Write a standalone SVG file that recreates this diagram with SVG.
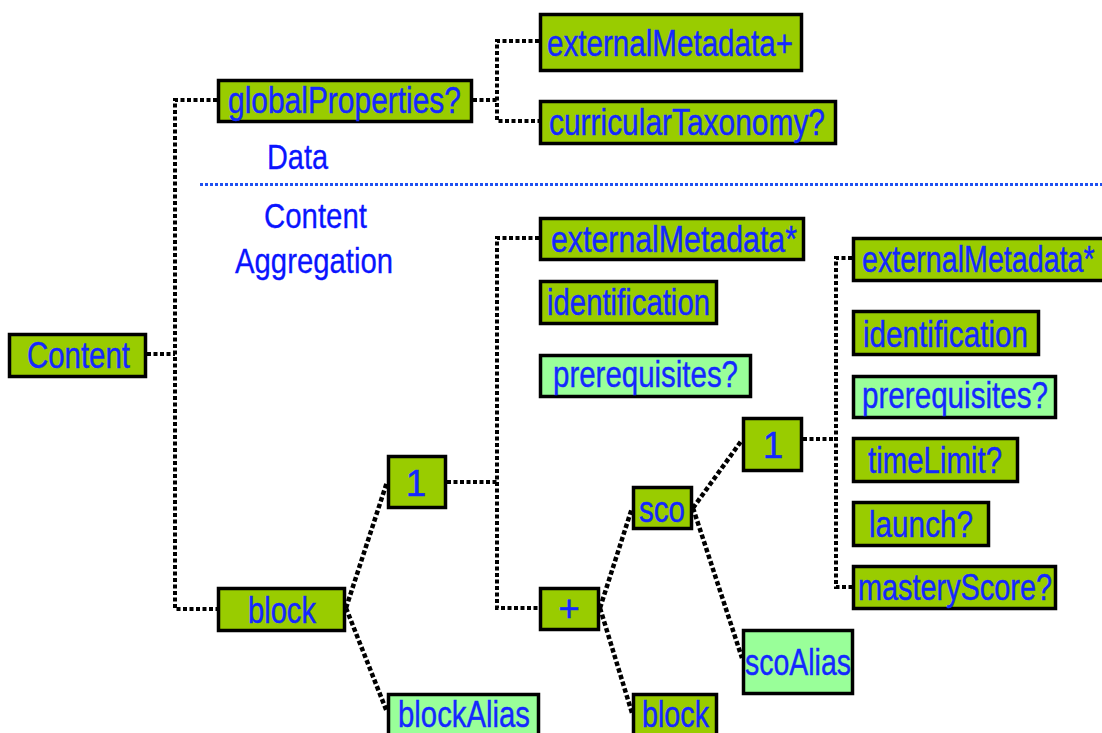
<svg xmlns="http://www.w3.org/2000/svg" width="1102" height="733" viewBox="0 0 1102 733">
<style>
.n{fill:#99cc00;stroke:#000;stroke-width:3.5}
.l{fill:#99ff99;stroke:#000;stroke-width:3.5}
.t{font-family:"Liberation Sans",Arial,sans-serif;font-size:37px;fill:#1428ff;stroke:#1428ff;stroke-width:0.4}
.lab{font-family:"Liberation Sans",Arial,sans-serif;font-size:35px;fill:#0a14ff;stroke:#0a14ff;stroke-width:0.3}
.c{fill:none;stroke:#000;stroke-width:4;stroke-dasharray:4 2.5}
.d{fill:none;stroke:#000;stroke-width:4.5;stroke-dasharray:4.5 2.5}
</style>
<rect width="1102" height="733" fill="#fff"/>
<g id="labels">
<text class="lab" x="267" y="169" textLength="61" lengthAdjust="spacingAndGlyphs">Data</text>
<text class="lab" x="264" y="228" textLength="103" lengthAdjust="spacingAndGlyphs">Content</text>
<text class="lab" x="235" y="273" textLength="158" lengthAdjust="spacingAndGlyphs">Aggregation</text>
<line x1="200" y1="184.5" x2="1102" y2="184.5" stroke="#2050f0" stroke-width="3" stroke-dasharray="3 2"/>
</g>
<g id="connectors">
<path class="c" d="M147,354 H175 M217,100 H175 V609 H217"/>
<path class="c" d="M473,100 H497 M539,41 H497 V121 H539"/>
<path class="c" d="M447,482 H497 M539,238 H497 V608 H539"/>
<path class="c" d="M803,439 H836 M852,258 H836 V587 H852"/>
<path class="d" d="M346,608 L387,482 M346,608 L387,712"/>
<path class="d" d="M600,608 L632,508 M600,608 L632,713"/>
<path class="d" d="M693,508 L742,440 M693,508 L742,658"/>
</g>
<g id="n-content"><rect class="n" x="9.5" y="334.5" width="136" height="42"/><text class="t" x="27" y="368" textLength="103" lengthAdjust="spacingAndGlyphs">Content</text></g>
<g id="n-globalProperties"><rect class="n" x="218.5" y="80.5" width="253" height="41"/><text class="t" x="228" y="113" textLength="233" lengthAdjust="spacingAndGlyphs">globalProperties?</text></g>
<g id="n-externalMetadataPlus"><rect class="n" x="540.5" y="14.5" width="261" height="56"/><text class="t" x="547" y="56" textLength="246" lengthAdjust="spacingAndGlyphs">externalMetadata+</text></g>
<g id="n-curricularTaxonomy"><rect class="n" x="540.5" y="101.5" width="295" height="42"/><text class="t" x="549" y="135" textLength="276" lengthAdjust="spacingAndGlyphs">curricularTaxonomy?</text></g>
<g id="n-externalMetadata1"><rect class="n" x="540.5" y="218.5" width="263" height="41"/><text class="t" x="551" y="252" textLength="246" lengthAdjust="spacingAndGlyphs">externalMetadata*</text></g>
<g id="n-identification1"><rect class="n" x="540.5" y="281.5" width="176" height="42"/><text class="t" x="547" y="315" textLength="163" lengthAdjust="spacingAndGlyphs">identification</text></g>
<g id="n-prerequisites1"><rect class="l" x="540.5" y="355.5" width="210" height="41"/><text class="t" x="553" y="387" textLength="185" lengthAdjust="spacingAndGlyphs">prerequisites?</text></g>
<g id="n-one1"><rect class="n" x="388.5" y="456.5" width="57" height="51"/><text class="t" x="416" y="496" text-anchor="middle">1</text></g>
<g id="n-block"><rect class="n" x="218.5" y="588.5" width="126" height="42"/><text class="t" x="248" y="623" textLength="68" lengthAdjust="spacingAndGlyphs">block</text></g>
<g id="n-blockAlias"><rect class="l" x="388.5" y="694.5" width="150" height="50"/><text class="t" x="398" y="727" textLength="132" lengthAdjust="spacingAndGlyphs">blockAlias</text></g>
<g id="n-plus"><rect class="n" x="540.5" y="588.5" width="58" height="41"/><text class="t" x="569" y="621" text-anchor="middle">+</text></g>
<g id="n-sco"><rect class="n" x="633.5" y="487.5" width="58" height="41"/><text class="t" x="639" y="522" textLength="46" lengthAdjust="spacingAndGlyphs">sco</text></g>
<g id="n-block2"><rect class="n" x="633.5" y="694.5" width="83" height="50"/><text class="t" x="642" y="727" textLength="67" lengthAdjust="spacingAndGlyphs">block</text></g>
<g id="n-one2"><rect class="n" x="743.5" y="418.5" width="58" height="52"/><text class="t" x="773" y="458" text-anchor="middle">1</text></g>
<g id="n-scoAlias"><rect class="l" x="743.5" y="630.5" width="109" height="63"/><text class="t" x="745" y="675" textLength="106" lengthAdjust="spacingAndGlyphs">scoAlias</text></g>
<g id="n-externalMetadata2"><rect class="n" x="853.5" y="238.5" width="260" height="42"/><text class="t" transform="translate(862,272) scale(0.775,1)">externalMetadata*</text></g>
<g id="n-identification2"><rect class="n" x="853.5" y="311.5" width="185" height="43"/><text class="t" x="863" y="347" textLength="165" lengthAdjust="spacingAndGlyphs">identification</text></g>
<g id="n-prerequisites2"><rect class="l" x="853.5" y="376.5" width="202" height="41"/><text class="t" x="862" y="408" textLength="186" lengthAdjust="spacingAndGlyphs">prerequisites?</text></g>
<g id="n-timeLimit"><rect class="n" x="853.5" y="438.5" width="164" height="43"/><text class="t" x="868" y="473" textLength="134" lengthAdjust="spacingAndGlyphs">timeLimit?</text></g>
<g id="n-launch"><rect class="n" x="853.5" y="502.5" width="135" height="43"/><text class="t" x="869" y="537" textLength="104" lengthAdjust="spacingAndGlyphs">launch?</text></g>
<g id="n-masteryScore"><rect class="n" x="853.5" y="566.5" width="202" height="42"/><text class="t" transform="translate(858,600) scale(0.78,1)">masteryScore?</text></g>
</svg>
